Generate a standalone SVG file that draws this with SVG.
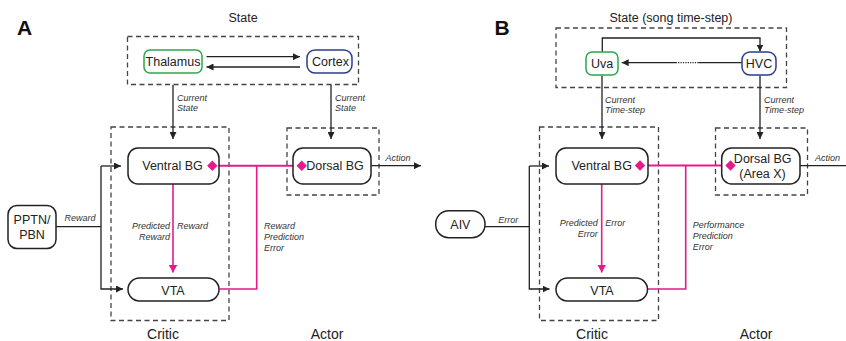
<svg xmlns="http://www.w3.org/2000/svg" width="846" height="341" viewBox="0 0 846 341">
<defs>
<marker id="ah" markerUnits="userSpaceOnUse" markerWidth="7" markerHeight="7" refX="7" refY="3.5" orient="auto"><path d="M0,0 L7,3.5 L0,7 z" fill="#222"/></marker>
<marker id="ahm" markerUnits="userSpaceOnUse" markerWidth="9" markerHeight="9" refX="8" refY="4.5" orient="auto"><path d="M0,0 L8,4.5 L0,9 z" fill="#e8198b"/></marker>
<style>
.dash{fill:none;stroke:#444;stroke-width:1.3;stroke-dasharray:5,3.5}
.node{fill:#fff;stroke:#222;stroke-width:1.5}
.g{fill:#fff;stroke:#2ea64c;stroke-width:1.5}
.b{fill:#fff;stroke:#2b3b90;stroke-width:1.5}
.t{font-family:"Liberation Sans",Arial,sans-serif;font-size:12.5px;fill:#222;text-anchor:middle}
.h{font-family:"Liberation Sans",Arial,sans-serif;font-size:14px;fill:#222;text-anchor:middle}
.s{font-family:"Liberation Sans",Arial,sans-serif;font-size:12.5px;fill:#222;text-anchor:middle}
.lab{font-family:"Liberation Sans",Arial,sans-serif;font-size:21px;font-weight:bold;fill:#111;text-anchor:middle}
.i{font-family:"Liberation Sans",Arial,sans-serif;font-size:9px;font-style:italic;fill:#333}
.ir{font-family:"Liberation Sans",Arial,sans-serif;font-size:9px;font-style:italic;fill:#333;text-anchor:end}
.k{fill:none;stroke:#222;stroke-width:1.3}
.m{fill:none;stroke:#e8198b;stroke-width:1.6}
.mh{fill:none;stroke:#e8198b;stroke-width:2}
.dm{fill:#e8198b}
</style>
</defs>

<!-- Panel A -->
<g id="panelA-labels">
<text class="lab" x="24.5" y="35">A</text>
<text class="s" x="243" y="21.5">State</text>
<text class="h" x="163" y="338.5">Critic</text>
<text class="h" x="327" y="338.5">Actor</text>
</g>
<g id="A-state-box"><rect class="dash" x="127.5" y="36.5" width="231" height="48"/></g>
<g id="A-critic-box"><rect class="dash" x="111" y="127" width="118" height="193.5"/></g>
<g id="A-actor-box"><rect class="dash" x="287" y="128" width="92" height="67"/></g>

<g id="A-connectors">
<line class="k" x1="206.5" y1="56.7" x2="300" y2="56.7" marker-end="url(#ah)"/>
<line class="k" x1="300" y1="67" x2="206.5" y2="67" marker-end="url(#ah)"/>
<line class="k" x1="173" y1="85" x2="173" y2="139" marker-end="url(#ah)"/>
<line class="k" x1="331" y1="85" x2="331" y2="139" marker-end="url(#ah)"/>
<line class="k" x1="371" y1="165.7" x2="421" y2="165.7" marker-end="url(#ah)"/>
<polyline class="k" points="56,226.7 101,226.7"/>
<polyline class="k" points="101,166 101,289 123,289" marker-end="url(#ah)"/>
<line class="k" x1="101" y1="166" x2="121" y2="166" marker-end="url(#ah)"/>
<line class="mh" x1="212" y1="165.7" x2="301" y2="165.7"/>
<polyline class="m" points="256.7,165.7 256.7,289 219.5,289"/>
<line class="m" x1="173" y1="184" x2="173" y2="272.5" marker-end="url(#ahm)"/>
<text class="i" x="177" y="100.5">Current</text>
<text class="i" x="177" y="111">State</text>
<text class="i" x="335" y="100.5">Current</text>
<text class="i" x="335" y="111">State</text>
<text class="i" x="385.5" y="161.3">Action</text>
<text class="i" x="64.5" y="221">Reward</text>
<text class="ir" x="170" y="229">Predicted</text>
<text class="ir" x="170" y="240">Reward</text>
<text class="i" x="177" y="229">Reward</text>
<text class="i" x="264" y="229">Reward</text>
<text class="i" x="264" y="240">Prediction</text>
<text class="i" x="264" y="250.5">Error</text>
</g>

<g id="A-thalamus"><rect class="g" x="144" y="50" width="58" height="23" rx="6"/><text class="t" x="173" y="66">Thalamus</text></g>
<g id="A-cortex"><rect class="b" x="307" y="50" width="45" height="23" rx="8"/><text class="t" x="330.5" y="66">Cortex</text></g>
<g id="A-ventral"><rect class="node" x="128" y="148" width="91" height="36" rx="10"/><text class="t" x="172.5" y="169.5">Ventral BG</text></g>
<g id="A-dorsal"><rect class="node" x="293" y="148" width="78" height="36" rx="10"/><text class="t" x="335" y="169.5">Dorsal BG</text></g>
<g id="A-vta"><rect class="node" x="128" y="278" width="91" height="23" rx="11.5"/><text class="t" x="173" y="294.5">VTA</text></g>
<g id="A-pptn"><rect class="node" x="8" y="205.5" width="48" height="43" rx="9"/><text class="t" x="32" y="224">PPTN/</text><text class="t" x="32" y="239">PBN</text></g>
<g id="A-diamonds">
<polygon class="dm" points="212.3,160.5 217.5,165.7 212.3,170.9 207.1,165.7"/>
<polygon class="dm" points="301.7,160.5 306.9,165.7 301.7,170.9 296.5,165.7"/>
</g>

<!-- Panel B -->
<g id="panelB-labels">
<text class="lab" x="502" y="35">B</text>
<text class="s" x="671" y="22">State (song time-step)</text>
<text class="h" x="592" y="338.5">Critic</text>
<text class="h" x="756" y="338.5">Actor</text>
</g>
<g id="B-state-box"><rect class="dash" x="556" y="28" width="230.5" height="59.5"/></g>
<g id="B-critic-box"><rect class="dash" x="539.5" y="127" width="119" height="193.5"/></g>
<g id="B-actor-box"><rect class="dash" x="715.5" y="128" width="92" height="67"/></g>

<g id="B-connectors">
<polyline class="k" points="602.3,52 602.3,38 760,38 760,51.5" marker-end="url(#ah)"/>
<line class="k" x1="741.7" y1="62.7" x2="698.5" y2="62.7"/>
<line class="k" x1="698.5" y1="62.7" x2="676" y2="62.7" stroke-dasharray="1.2,1.2"/>
<line class="k" x1="676" y1="62.7" x2="621.7" y2="62.7" marker-end="url(#ah)"/>
<line class="k" x1="602" y1="75.5" x2="602" y2="139" marker-end="url(#ah)"/>
<line class="k" x1="760" y1="75.5" x2="760" y2="139" marker-end="url(#ah)"/>
<line class="k" x1="800" y1="165.7" x2="846" y2="165.7"/>
<polyline class="k" points="485,226.7 529.3,226.7"/>
<polyline class="k" points="529.3,166 529.3,289 549.5,289" marker-end="url(#ah)"/>
<line class="k" x1="529.3" y1="166" x2="549" y2="166" marker-end="url(#ah)"/>
<line class="mh" x1="640" y1="165.5" x2="730.5" y2="165.5"/>
<polyline class="m" points="685.7,165.5 685.7,289 647.5,289"/>
<line class="m" x1="601.7" y1="184" x2="601.7" y2="272.5" marker-end="url(#ahm)"/>
<text class="i" x="605" y="103">Current</text>
<text class="i" x="605" y="113">Time-step</text>
<text class="i" x="764" y="103">Current</text>
<text class="i" x="764" y="113">Time-step</text>
<text class="i" x="815" y="161">Action</text>
<text class="i" x="498.3" y="222.7">Error</text>
<text class="ir" x="597.7" y="226.3">Predicted</text>
<text class="ir" x="597.7" y="236.5">Error</text>
<text class="i" x="605.3" y="226.3">Error</text>
<text class="i" x="692.7" y="228.3">Performance</text>
<text class="i" x="692.7" y="239">Prediction</text>
<text class="i" x="692.7" y="250">Error</text>
</g>

<g id="B-uva"><rect class="g" x="586" y="52" width="32" height="23" rx="6"/><text class="t" x="602" y="68">Uva</text></g>
<g id="B-hvc"><rect class="b" x="742" y="52" width="34" height="23" rx="8"/><text class="t" x="759" y="68">HVC</text></g>
<g id="B-ventral"><rect class="node" x="556" y="148" width="92" height="36" rx="10"/><text class="t" x="601.7" y="169.5">Ventral BG</text></g>
<g id="B-dorsal"><rect class="node" x="721.7" y="148" width="78.3" height="36" rx="10"/><text class="t" x="762.7" y="163">Dorsal BG</text><text class="t" x="762.5" y="178">(Area X)</text></g>
<g id="B-vta"><rect class="node" x="556" y="278" width="91.5" height="23" rx="11.5"/><text class="t" x="602" y="294.5">VTA</text></g>
<g id="B-aiv"><rect class="node" x="435.7" y="210.7" width="49.3" height="27" rx="13"/><text class="t" x="460.4" y="229">AIV</text></g>
<g id="B-diamonds">
<polygon class="dm" points="640,160.3 645.2,165.5 640,170.7 634.8,165.5"/>
<polygon class="dm" points="730.5,160.3 735.7,165.5 730.5,170.7 725.3,165.5"/>
</g>
</svg>
